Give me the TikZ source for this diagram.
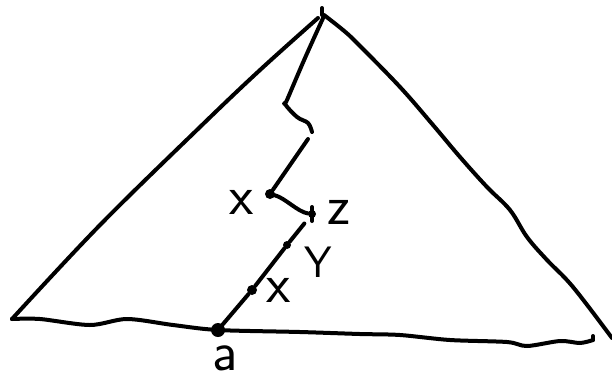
\documentclass[tikz,border=0pt]{standalone}
\usepackage{tikz}
\usetikzlibrary{positioning, calc}

\begin{document}
\begin{tikzpicture}[x=1pt, y=-1pt,
      pen/.style={line width=4pt, line cap=round, line join=round},
      dot/.style={circle, fill, inner sep=0pt, minimum size=#1},
      lbl/.style={font=\sffamily\fontsize{56}{56}\selectfont, inner sep=0pt},
      ]
    \useasboundingbox (0,0) rectangle (612,381);

    % corners of the big triangle
    \coordinate (top) at (322,15);
    \coordinate (lc) at (12,319);
    \coordinate (rc) at (612,338);
    \coordinate (be) at (593,340);

    % points on the path
    \node[dot=14pt] (a) at (218,330) {};
    \node[dot=10pt] (xl) at (252,290) {};
    \node[dot=8pt] (y) at (287,245) {};
    \node[dot=8pt] (z) at (312,214) {};
    \node[dot=10pt] (xu) at (270,194) {};
    \coordinate (kink) at (312,132);
    \coordinate (kink2) at (308,139);

    % labels
    \node[lbl] (lxu) at (242,202) {x};
    \node[lbl] (lz) at (339,212) {z};
    \node[lbl, font=\sffamily\fontsize{44}{44}\selectfont] (ly) at (318,262) {Y};
    \node[lbl] (lxl) at (279,290) {x};
    \node[lbl] (la) at (225,358) {a};

    % sides
    \draw[pen] (322,8) -- (top);
    \draw[pen] plot[smooth, tension=0.6] coordinates {(318,18) (260,70) (200,127) (100,225) (lc)};
    \draw[pen] plot[smooth, tension=0.6] coordinates {(324,15) (343,30) (357,43) (400,87) (433,125)
      (460,157) (487,187) (510,210) (527,237) (547,260) (573,287) (rc)};
    \draw[pen] plot[smooth, tension=0.5] coordinates {(lc) (40,319) (90,325) (127,319) (173,325)
      (a) (300,332) (360,334) (400,335) (450,340) (507,342) (527,346) (560,341) (580,343) (be)};
    \draw[pen] (be) -- ++(0,-4);

    % path down from the top
    \draw[pen] plot[smooth, tension=0.6] coordinates {(324,16) (305,58) (287,100) (285,104)
      (297,117) (308,123) (kink)};
    \draw[pen] (kink2) -- (xu);
    \draw[pen] (xu) .. controls (285,198) and (298,212) .. (z);
    \draw[pen] (312,207) -- (312,221);
    \draw[pen, shorten <=8pt] (z) -- (y);
    \draw[pen] (y) -- (xl);
    \draw[pen] (xl) -- (a);
  \end{tikzpicture}
\end{document}
